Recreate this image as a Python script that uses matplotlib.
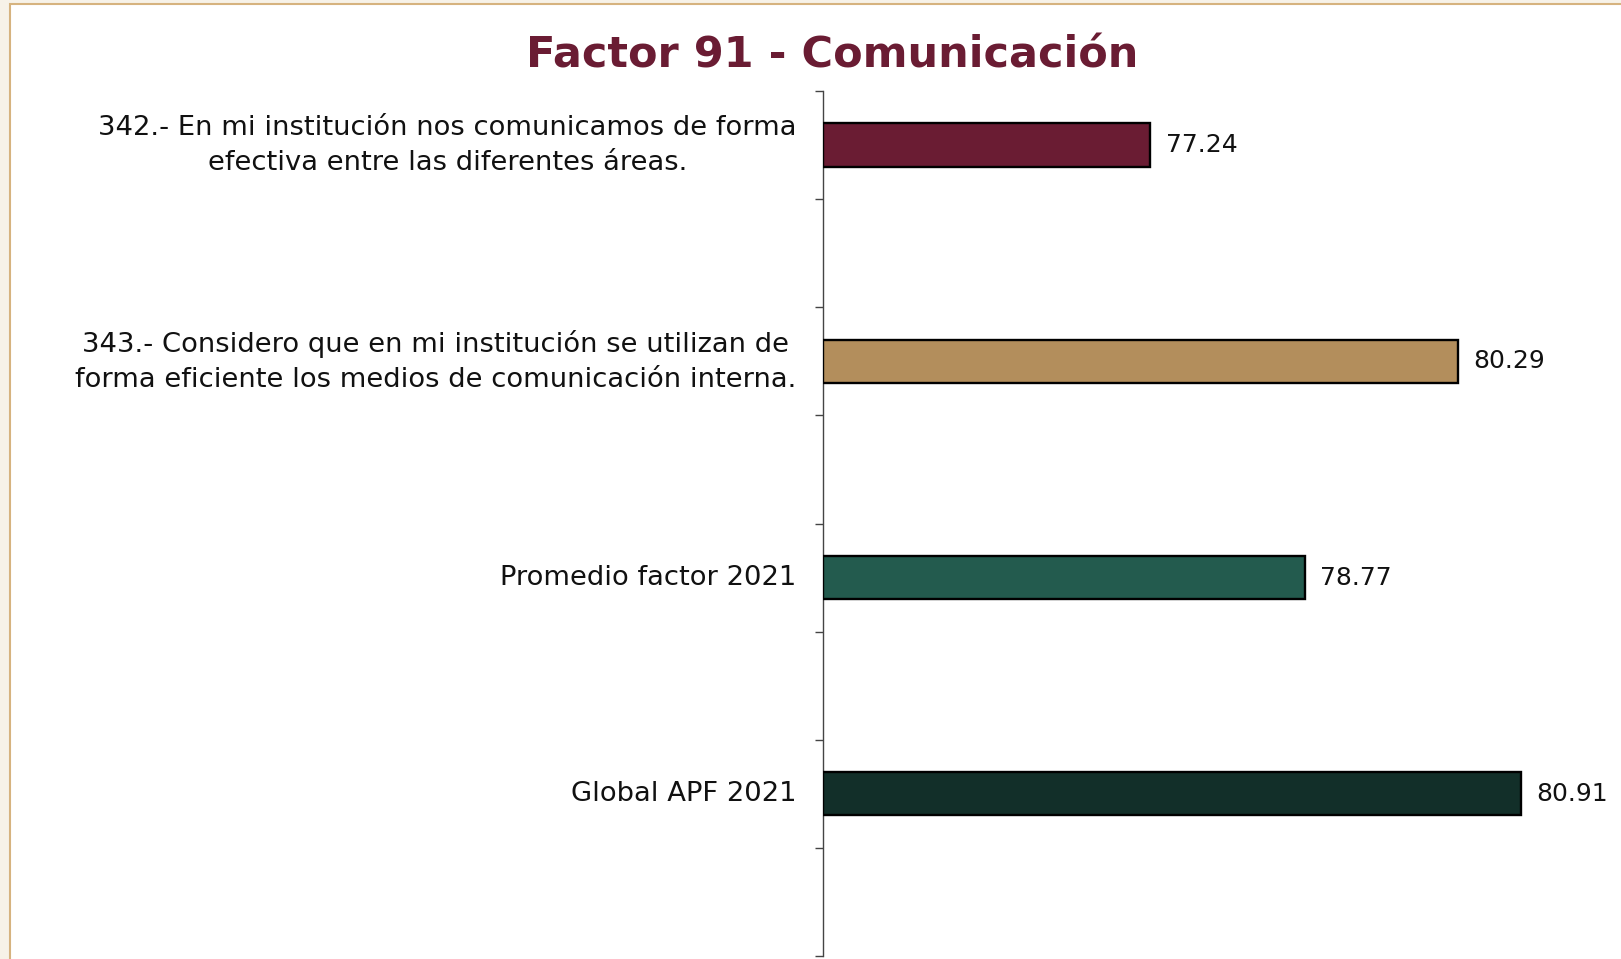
import matplotlib.pyplot as plt
from matplotlib.patches import Rectangle

labels = ['342.- En mi institución nos comunicamos de forma\nefectiva entre las diferentes áreas.',
          '343.- Considero que en mi institución se utilizan de\nforma eficiente los medios de comunicación interna.',
          'Promedio factor 2021',
          'Global APF 2021']
values = [77.24, 80.29, 78.77, 80.91]
colors = ['#6a1c33', '#b38e5c', '#235b4e', '#122f29']

plt.rcParams['font.family'] = ['DejaVu Sans']

fig = plt.figure(figsize=(16.21, 9.59), dpi=100, facecolor='#f7f2e8')
# white panel with tan border
fig.patches.append(Rectangle((10/1621, -0.01), 1.02, 1 - 4/959 + 0.01, transform=fig.transFigure,
                             facecolor='white', edgecolor='#d6b37f', linewidth=1.5, zorder=-5))

ax = fig.add_axes([823/1621, 3/959, 798/1621, 865/959])
ax.set_facecolor('none')
ax.set_zorder(2)

pos = [0.5, 2.5, 4.5, 6.5]
ax.barh(pos, [v - 74 for v in values], left=74, height=0.4, color=colors,
        edgecolor='black', linewidth=1.7, zorder=3)
for p, v in zip(pos, values):
    ax.annotate(f'{v:.2f}', (v, p), xytext=(11, 0), textcoords='offset points',
                va='center', ha='left', fontsize=18, color='#111111')

ax.set_xlim(74, 81.9)
ax.set_ylim(8, 0)
ax.set_yticks(range(9))
ax.set_yticklabels([])
ax.set_yticks(pos, minor=True)
ax.set_yticklabels(labels, minor=True, fontsize=19.7, color='#111111')
for t in ax.get_yticklabels(minor=True):
    t.set_multialignment('center')
    t.set_linespacing(1.45)
    t.set_va('center')
ax.tick_params(axis='y', which='major', length=6, width=1, color='#444444', direction='out')
ax.tick_params(axis='y', which='minor', length=0, pad=19)
ax.set_xticks([])
for s in ['top', 'right', 'bottom']:
    ax.spines[s].set_visible(False)
ax.spines['left'].set_color('#444444')
ax.spines['left'].set_linewidth(1)

fig.text(832/1621, 1 - 56/959, 'Factor 91 - Comunicación', ha='center', va='center',
         fontsize=31, fontweight='bold', color='#6a1c33')

fig.savefig('out.png', dpi=100, facecolor=fig.get_facecolor())
